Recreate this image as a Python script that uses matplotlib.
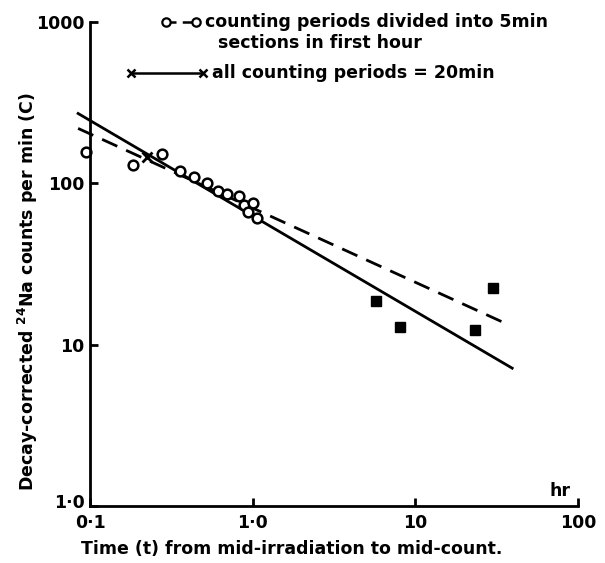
import matplotlib
matplotlib.use("Agg")
import matplotlib.pyplot as plt
from matplotlib.lines import Line2D
from matplotlib.transforms import ScaledTranslation

# ---- data ----
circle_t = [0.095, 0.184, 0.277, 0.357, 0.435, 0.523, 0.609, 0.70, 0.82, 0.89, 0.93, 1.00, 1.07]
circle_c = [156, 129, 151, 120, 110, 101, 89, 85.5, 84, 73, 66, 75, 61]

cross_t = [0.224]
cross_c = [145]

late_t = [5.7, 8.0, 23.3, 30.1]
late_c = [18.6, 12.8, 12.3, 22.4]

solid_t = [0.0845, 39.4]
solid_c = [271, 7.15]
dashed_t = [0.0845, 36.7]
dashed_c = [219, 13.4]

xticks = [0.1, 1, 10, 100]
xtick_labels = ["0·1", "1·0", "10", "100"]
yticks = [1, 10, 100, 1000]
ytick_labels = ["1·0", "10", "100", "1000"]

W, H = 605, 563
fig = plt.figure(figsize=(W / 100, H / 100), dpi=100)
ax = fig.add_axes([90 / W, 1 - 506 / H, (578 - 90) / W, (506 - 22) / H])
ax.set_xscale("log")
ax.set_yscale("log")
ax.set_xlim(0.1, 100)
ax.set_ylim(1, 1000)

for s in ["top", "right"]:
    ax.spines[s].set_visible(False)
for s in ["left", "bottom"]:
    ax.spines[s].set_linewidth(2.0)

ax.set_xticks(xticks)
ax.set_xticklabels(xtick_labels)
ax.set_yticks(yticks)
ax.set_yticklabels(ytick_labels)
ax.minorticks_off()
ax.tick_params(axis="both", direction="in", length=6, width=2.0, labelsize=12.5)
ax.tick_params(axis="x", pad=6)
ax.tick_params(axis="y", pad=4)
for lab in ax.get_xticklabels() + ax.get_yticklabels():
    lab.set_fontweight("bold")
# lift the lowest y label a little, as in the reference
ylab0 = ax.get_yticklabels()[0]
ylab0.set_transform(ylab0.get_transform() + ScaledTranslation(0, 5 / 100, fig.dpi_scale_trans))

ax.plot(solid_t, solid_c, color="black", lw=2.0, clip_on=False)
ax.plot(dashed_t, dashed_c, color="black", lw=2.0, dashes=(6, 3.5), clip_on=False)
ax.plot(circle_t, circle_c, "o", ms=7, mfc="white", mec="black", mew=1.8, clip_on=False)
ax.plot(cross_t, cross_c, "x", ms=7, mec="black", mew=2.0, clip_on=False)
ax.plot(late_t, late_c, "s", ms=7.5, mfc="black", mec="black", clip_on=False)

ax.text(0.985, 0.012, "hr", transform=ax.transAxes, ha="right", va="bottom",
        fontsize=12.5, fontweight="bold")

fig.text(28 / W, 1 - 292 / H, "Decay-corrected $^{\\mathbf{24}}$Na counts per min (C)",
         rotation=90, ha="center", va="center", fontsize=12.5, fontweight="bold")
fig.text(292 / W, 1 - 549 / H, "Time (t) from mid-irradiation to mid-count.",
         ha="center", va="center", fontsize=12.5, fontweight="bold")

# legend (manual)
def px(x, y):
    return x / W, 1 - y / H

l1 = Line2D([166 / W, 196 / W], [1 - 22 / H, 1 - 22 / H], transform=fig.transFigure,
            color="black", lw=1.8, dashes=(4, 2.5), marker="o", ms=6, mfc="white",
            mec="black", mew=1.6)
fig.add_artist(l1)
l2 = Line2D([131 / W, 203 / W], [1 - 73 / H, 1 - 73 / H], transform=fig.transFigure,
            color="black", lw=1.8, marker="x", ms=6, mec="black", mew=1.8)
fig.add_artist(l2)
fig.text(*px(205, 22), "counting periods divided into 5min", ha="left", va="center",
         fontsize=12.5, fontweight="bold")
fig.text(*px(218, 43), "sections in first hour", ha="left", va="center",
         fontsize=12.5, fontweight="bold")
fig.text(*px(212, 73), "all counting periods = 20min", ha="left", va="center",
         fontsize=12.5, fontweight="bold")

fig.savefig("out.png", dpi=100)
